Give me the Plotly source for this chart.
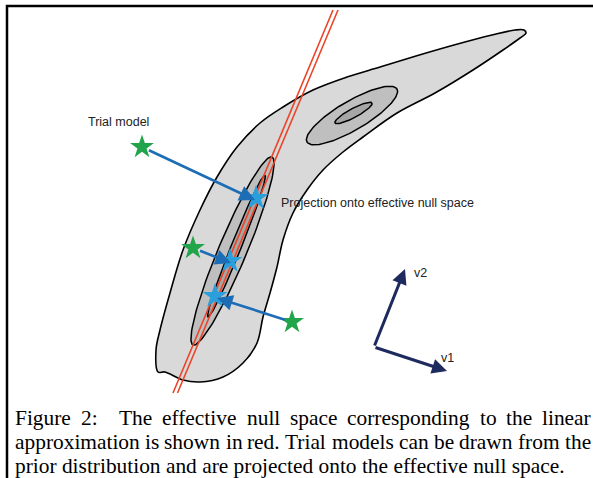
import numpy as np
import plotly.graph_objects as go

W, H = 593, 478

# ---------------- data (diagram coordinates, pixel space) ----------------
# outer prior contour (banana shape) outline vertices
banana_x = [158, 156, 160, 170, 183, 200, 217, 237, 260, 283, 313, 347, 380, 416, 454, 492, 515, 524,
            526, 520, 503, 473, 435, 397, 363, 343, 323, 307, 293, 283, 277, 270, 263, 257, 243, 223,
            200, 183, 165]
banana_y = [372, 350, 330, 293, 250, 210, 177, 147, 123, 107, 90, 77, 67, 56, 45, 35, 30, 30,
            33, 38, 50, 70, 93, 113, 137, 152, 170, 190, 213, 240, 267, 293, 317, 343, 363, 377,
            382, 380, 372]

# inner contours: (tip A x, tip A y, tip B x, tip B y, half width)
upper_outer_ellipse = [307, 142, 397, 89, 14.5]
upper_inner_ellipse = [335, 123, 372, 103, 4.5]
lower_mid_ellipse = [193, 345, 272, 157, 14]
lower_inner_ellipse = [208, 317, 265, 175, 5]

# effective null space (two red lines)
null_line1_x = [173, 333]
null_line1_y = [393, 10]
null_line2_x = [177.5, 338]
null_line2_y = [393, 10]

# trial models (green) and their projections (blue)
trial_x = [142, 193, 292]
trial_y = [147, 248, 322]
proj_x = [256, 230, 215]
proj_y = [198, 261, 296]
arrow_tip_x = [255, 231, 217]
arrow_tip_y = [200, 263, 298]

# basis vectors
basis_origin = [374, 347]
v1_tip = [447, 371]
v2_tip = [405, 269]

# caption lines
cap_line1 = "Figure 2: The effective null space corresponding to the linear"
cap_line2 = "approximation is shown in red. Trial models can be drawn from the"
cap_line3 = "prior distribution and are projected onto the effective null space."

# Times / Liberation Serif advance widths (1/1000 em) used to justify caption lines
TIMES = dict(zip("abcdefghijklmnopqrstuvwxyz",
                 [444, 500, 444, 500, 444, 333, 500, 500, 278, 278, 500, 278, 778, 500, 500, 500,
                  500, 333, 389, 278, 500, 500, 722, 500, 500, 444]))
TIMES.update({"F": 556, "T": 611, "2": 500, ":": 278, ".": 250, " ": 250})


def word_width(w, size):
    return sum(TIMES.get(c, 500) for c in w) * size / 1000.0


def justify(line, left, right, size, gap_weights=None):
    words = line.split(" ")
    widths = [word_width(w, size) for w in words]
    n_gaps = len(words) - 1
    wts = gap_weights or [1.0] * n_gaps
    extra = (right - left) - sum(widths)
    unit = extra / sum(wts)
    xs, x = [], left
    for i, w in enumerate(widths):
        xs.append(x)
        if i < n_gaps:
            x += w + unit * wts[i]
    return words, xs


def ellipse(params, n=120):
    x1, y1, x2, y2, b = params
    cx, cy = (x1 + x2) / 2, (y1 + y2) / 2
    dx, dy = x2 - x1, y2 - y1
    a = np.hypot(dx, dy) / 2
    ux, uy = dx / (2 * a), dy / (2 * a)
    t = np.linspace(0, 2 * np.pi, n)
    ex = cx + a * np.cos(t) * ux - b * np.sin(t) * uy
    ey = cy + a * np.cos(t) * uy + b * np.sin(t) * ux
    return ex, ey


LIGHT, MID, DARK = "#d9d9d9", "#bfbfbf", "#a6a6a6"
RED = "#ea4429"
GREEN = "#21a44a"
LBLUE = "#2a9fdc"
ABLUE = "#1d6db5"
NAVY = "#1f2a5e"

fig = go.Figure()

bx = banana_x + banana_x[:1]
by = banana_y + banana_y[:1]
fig.add_trace(go.Scatter(x=bx, y=by, mode="lines", fill="toself", fillcolor=LIGHT,
                         line=dict(color="black", width=1.6, shape="spline", smoothing=1.0),
                         hoverinfo="skip"))

for params, col in [(upper_outer_ellipse, MID), (upper_inner_ellipse, DARK),
                    (lower_mid_ellipse, MID), (lower_inner_ellipse, DARK)]:
    ex, ey = ellipse(params)
    fig.add_trace(go.Scatter(x=ex, y=ey, mode="lines", fill="toself", fillcolor=col,
                             line=dict(color="black", width=1.5), hoverinfo="skip"))

for lx, ly in [(null_line1_x, null_line1_y), (null_line2_x, null_line2_y)]:
    fig.add_trace(go.Scatter(x=lx, y=ly, mode="lines", line=dict(color=RED, width=1.6),
                             hoverinfo="skip"))

fig.add_trace(go.Scatter(x=trial_x, y=trial_y, mode="markers",
                         marker=dict(symbol="star", size=18, color=GREEN, line=dict(width=0)),
                         hoverinfo="skip"))
fig.add_trace(go.Scatter(x=proj_x, y=proj_y, mode="markers",
                         marker=dict(symbol="star", size=19, color=LBLUE, line=dict(width=0)),
                         hoverinfo="skip"))

annotations = []
for sx, sy, tx, ty in zip(trial_x, trial_y, arrow_tip_x, arrow_tip_y):
    annotations.append(dict(x=tx, y=ty, ax=sx, ay=sy, xref="x", yref="y", axref="x", ayref="y",
                            text="", showarrow=True, arrowhead=2, arrowsize=1.2, arrowwidth=2.6,
                            arrowcolor=ABLUE, startstandoff=6))
for tip in (v1_tip, v2_tip):
    annotations.append(dict(x=tip[0], y=tip[1], ax=basis_origin[0], ay=basis_origin[1],
                            xref="x", yref="y", axref="x", ayref="y", text="", showarrow=True,
                            arrowhead=2, arrowsize=1.0, arrowwidth=3, arrowcolor=NAVY))

label_font = dict(family="Liberation Sans, Arial", size=12.5, color="#222222")
annotations += [
    dict(x=86, y=122, text="Trial model", showarrow=False, xanchor="left", yanchor="middle",
         xref="x", yref="y", font=label_font),
    dict(x=279, y=203, text="Projection onto effective null space", showarrow=False,
         xanchor="left", yanchor="middle", xref="x", yref="y", font=label_font),
    dict(x=412, y=273, text="v2", showarrow=False, xanchor="left", yanchor="middle",
         xref="x", yref="y", font=label_font),
    dict(x=439, y=358, text="v1", showarrow=False, xanchor="left", yanchor="middle",
         xref="x", yref="y", font=label_font),
]

CAP_SIZE = 21.4
cap_font = dict(family="Liberation Serif, Times New Roman", size=CAP_SIZE, color="black")
w1, x1s = justify(cap_line1, 14, 590, CAP_SIZE, [1, 2.2, 1, 1, 1, 1, 1, 1, 1])
w2, x2s = justify(cap_line2, 14, 590, CAP_SIZE)
for words, xs, yc in [(w1, x1s, 418), (w2, x2s, 442)]:
    for w, x in zip(words, xs):
        annotations.append(dict(x=x - 1, y=yc, text=w, showarrow=False, xanchor="left",
                                yanchor="middle", xref="x", yref="y", font=cap_font))
annotations.append(dict(x=13, y=466, text=cap_line3, showarrow=False, xanchor="left",
                        yanchor="middle", xref="x", yref="y", font=cap_font))

shapes = [dict(type="rect", xref="x", yref="y", x0=7, y0=6, x1=620, y1=520,
               line=dict(color="black", width=2.5), fillcolor="rgba(0,0,0,0)", layer="above")]

fig.update_layout(
    width=W, height=H, autosize=False,
    margin=dict(l=0, r=0, t=0, b=0, pad=0),
    paper_bgcolor="white", plot_bgcolor="white",
    showlegend=False,
    xaxis=dict(range=[0, W], visible=False, fixedrange=True),
    yaxis=dict(range=[H, 0], visible=False, fixedrange=True),
    annotations=annotations, shapes=shapes,
)

fig.write_html("out.html", config=dict(displayModeBar=False),
               post_script="document.body.style.margin='0';document.body.style.padding='0';")
